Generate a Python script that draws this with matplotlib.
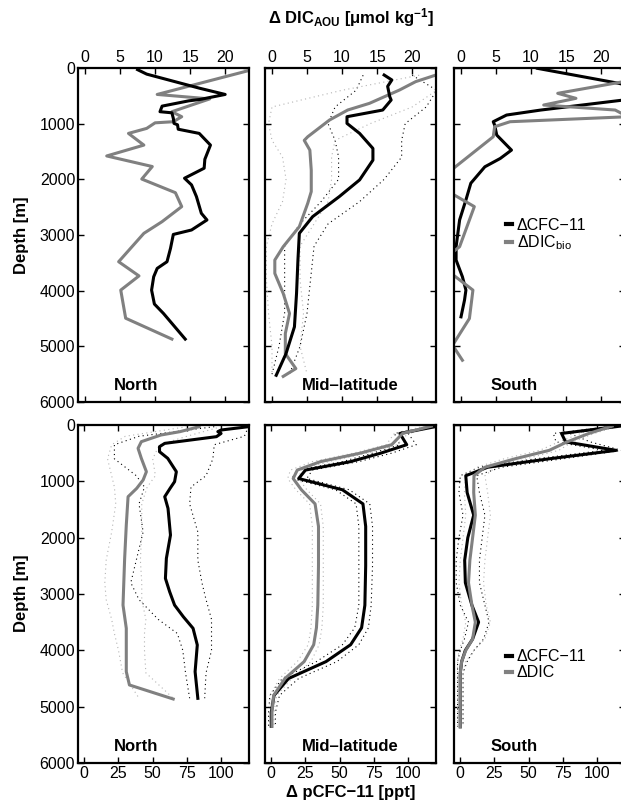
import numpy as np
import matplotlib
matplotlib.use('Agg')
import matplotlib.pyplot as plt
from matplotlib.lines import Line2D

plt.rcParams['font.family'] = ['Liberation Sans', 'DejaVu Sans']
plt.rcParams['mathtext.fontset'] = 'custom'
plt.rcParams['mathtext.rm'] = 'Liberation Sans'
plt.rcParams['mathtext.bf'] = 'Liberation Sans:bold'
plt.rcParams['mathtext.it'] = 'Liberation Sans:italic'

GRAY = '#808080'
LGRAY = '#b4b4b4'

# ---------------- top row: DIC_AOU based estimates [umol/kg] ----------------
# North
tn_cfc_d = [30, 110, 365, 475, 565, 590, 685, 785, 805, 905, 995, 1020, 1100, 1175, 1385,
            1640, 1800, 1980, 2100, 2310, 2610, 2730, 2910, 2990, 3240, 3480, 3600, 3750,
            3990, 4240, 4410, 4870]
tn_cfc = [7.5, 8.8, 16.4, 20.0, 16.4, 14.8, 11.0, 10.7, 12.4, 12.6, 12.7, 13.2, 13.3, 16.3, 17.9,
          17.1, 17.0, 14.2, 15.2, 15.9, 16.6, 17.4, 15.2, 12.6, 12.2, 11.7, 10.3, 9.8,
          9.5, 9.9, 11.2, 14.3]
tn_dic_d = [48, 475, 555, 785, 875, 965, 985, 1085, 1175, 1385, 1580, 1770, 1995, 2240, 2490,
            2760, 2970, 3480, 3735, 3990, 4495, 4870]
tn_dic = [23.3, 10.3, 17.8, 12.4, 13.8, 12.6, 10.0, 8.8, 6.2, 8.4, 3.1, 9.6, 8.1, 12.9, 13.8,
          11.0, 8.4, 4.8, 7.7, 5.1, 5.8, 12.4]

# Mid-latitude
tm_cfc_d = [126, 215, 330, 515, 575, 755, 875, 995, 1175, 1445, 1655, 2010, 2310, 2670, 2970,
            3450, 4050, 4650, 5130, 5520]
tm_cfc = [16.0, 17.1, 16.5, 16.8, 17.0, 15.8, 10.7, 10.7, 12.5, 14.4, 14.4, 12.5, 9.6, 5.8, 3.9,
          3.7, 3.5, 3.2, 2.0, 0.6]
tm_dic_d = [126, 245, 395, 635, 755, 935, 1235, 1300, 1475, 1835, 2220, 2430, 2850, 3210, 3450,
            3690, 4050, 4410, 4770, 5130, 5400, 5540]
tm_dic = [23.4, 20.5, 18.2, 13.9, 10.8, 8.2, 5.1, 4.6, 5.4, 5.6, 5.6, 5.1, 3.9, 1.6, 0.4,
          0.4, 1.6, 2.5, 1.9, 1.9, 3.4, 1.6]
tm_bnd_d = [130, 400, 700, 1000, 1300, 1600, 2000, 2400, 2800, 3200, 3800, 4400, 5000, 5500]
tm_cfc_hi = [20, 23.5, 22, 19, 18.5, 18.5, 16, 12.5, 8, 6, 5.5, 5, 4, 2.5]
tm_cfc_lo = [13, 12, 9, 8, 9, 9.5, 9.5, 7, 4, 1.8, 1.8, 1.8, 1, 0]
tm_dic_hi = [24, 23.5, 20, 14, 9, 8.5, 8.5, 8, 6, 4, 4, 4.5, 4, 5]
tm_dic_lo = [21, 10, 0, -0.5, 0, 1.5, 2, 1.5, 0, -0.8, -0.8, -0.5, 0, 0]

# South
ts_cfc_d = [6, 275, 335, 575, 755, 845, 965, 1025, 1205, 1475, 1625, 1775, 2070, 2370, 2730,
            3210, 3450, 3750, 3990, 4170, 4470]
ts_cfc = [10.9, 22.5, 24.5, 23.2, 11.4, 6.5, 4.6, 4.8, 5.1, 7.2, 5.6, 3.4, 1.4, 0.7, -0.2,
          -0.7, -0.7, 0.2, 0.7, 0.5, 0.0]
ts_dic_d = [245, 455, 545, 665, 755, 875, 965, 1055, 1235, 1835, 2250, 2490, 3210, 3330,
            3690, 3990, 4500, 4980, 5250]
ts_dic = [23.2, 13.8, 16.4, 11.8, 22.0, 23.8, 7.0, 4.8, 4.6, -1.4, -1.4, 1.9, -0.2, -1.4,
          -1.4, 1.7, 1.2, -1.2, 0.2]

# ---------------- bottom row: pCFC-11 [ppt] ----------------
# North
bn_cfc_d = [30, 89, 118, 150, 207, 326, 385, 474, 592, 829, 1006, 1125, 1273, 1480, 1954,
            2368, 2723, 2960, 3197, 3404, 3609, 3905, 4379, 4852]
bn_cfc = [120, 100, 97.6, 100, 96.6, 58.8, 55, 55, 61, 67.3, 66, 62.7, 58.8, 61.2, 63,
          60, 59.3, 62.4, 66, 72.4, 79.5, 82.6, 81, 83]
bn_dic_d = [30, 118, 178, 296, 414, 592, 829, 977, 1125, 1273, 1776, 2368, 3197, 3609,
            4379, 4615, 4864]
bn_dic = [84, 70, 56, 41.7, 39.3, 41.7, 45.4, 43, 38.3, 32, 30.7, 29.5, 28.3, 30.7,
          30.7, 33, 65]
bn_bnd_d = [30, 200, 350, 600, 900, 1100, 1400, 1900, 2400, 2800, 3100, 3450, 3700, 4000, 4400, 4850]
bn_cfc_hi = [120, 117, 95, 94, 89, 78, 77, 83, 83, 86, 89, 93, 93, 93, 89, 88]
bn_cfc_lo = [95, 40, 22, 22, 38, 44, 40, 43, 38, 34, 40, 54, 68, 72, 74, 77]
bn_dic_hi = [100, 75, 55, 50, 52, 46, 42, 42, 41, 42, 42, 45, 44, 44, 45, 65]
bn_dic_lo = [75, 30, 20, 17, 20, 22, 23, 20, 16, 15, 16, 20, 22, 25, 28, 40]

# Mid-latitude
bm_d = [20, 150, 350, 500, 650, 800, 950, 1150, 1400, 1800, 2500, 3200, 3600, 3900, 4200,
        4500, 4800, 5100, 5350]
bm_cfc = [122, 94, 99, 80, 58, 25, 20, 52, 67, 69, 69, 68.4, 66, 58, 40, 12.6, 2, 0, 0]
bm_dic = [117, 96, 88, 65, 36, 19, 16, 22, 32, 34.5, 34.5, 34, 33, 31, 24, 10, 1.7, 0.5, 0.5]
bm_cfc_hi = [122, 100, 106, 88, 64, 30, 26, 57, 72, 74, 74, 73, 71, 64, 48, 20, 6, 3, 3]
bm_cfc_lo = [118, 90, 94, 74, 52, 19, 15, 47, 62, 64, 64, 64, 61, 52, 33, 8, -1, -2, -2]
bm_dic_hi = [120, 100, 92, 70, 42, 22, 20, 26, 36, 38, 38, 38, 37, 35, 29, 15, 4, 2, 2]
bm_dic_lo = [112, 90, 84, 60, 30, 14, 12, 18, 28, 30, 30, 30, 29, 27, 19, 6, -1, -1, -1]

# South
bs_d = [20, 150, 300, 450, 600, 750, 900, 1200, 1600, 2000, 2400, 2800, 3200, 3500, 3800,
        4000, 4200, 4400, 5357]
bs_cfc = [117, 74, 77, 114, 65, 20, 4, 5, 9.8, 5.5, 3.2, 3.7, 8.5, 13.4, 9, 3.7, 1, 0, 0]
bs_dic = [111, 94, 78, 65, 40, 18, 10, 9.8, 11, 9, 7, 6, 8.5, 11, 9, 4, 1, 0, 0]
bs_cfc_hi = [120, 80, 95, 118, 75, 30, 12, 14, 18, 16, 14, 14, 18, 21, 17, 10, 5, 2, 2]
bs_cfc_lo = [112, 68, 70, 105, 55, 14, 0, -1, 2, -1, -3, -3, 0, 6, 3, 0, -2, -2, -2]
bs_dic_hi = [115, 98, 82, 72, 48, 26, 18, 20, 22, 20, 18, 17, 19, 22, 18, 10, 4, 2, 2]
bs_dic_lo = [106, 88, 72, 58, 32, 12, 4, 3, 4, 2, 0, -1, 1, 4, 2, -1, -2, -2, -2]

names = ['North', 'Mid\u2013latitude', 'South']
name_x = [0.34, 0.5, 0.35]
top_ticks = [0, 5, 10, 15, 20]
bot_ticks = [0, 25, 50, 75, 100]
depth_ticks = [0, 1000, 2000, 3000, 4000, 5000, 6000]

fig = plt.figure(figsize=(6.21, 8.10), dpi=100)
W, H = 621.0, 810.0
xs = [78, 265, 454]
pw = 171

dot = (0, (1, 3))


def style(ax, row, col):
    ax.set_ylim(6000, 0)
    ax.set_yticks(depth_ticks)
    if row == 0:
        ax.set_xlim(-1, 23.4)
        ax.set_xticks(top_ticks)
        ax.tick_params(axis='x', labeltop=True, labelbottom=False)
    else:
        ax.set_xlim(-4.6, 120.4)
        ax.set_xticks(bot_ticks)
    ax.tick_params(which='both', direction='in', top=True, bottom=True, left=True,
                   right=True, length=4, width=1, labelsize=11.5, pad=2)
    if col > 0:
        ax.tick_params(axis='y', labelleft=False)
    for s in ax.spines.values():
        s.set_linewidth(1.6)
    ax.text(name_x[col], 0.05 if row == 0 else 0.05, names[col], transform=ax.transAxes,
            ha='center', va='center', fontsize=12, fontweight='bold')


axes = {}
for row in range(2):
    for col in range(3):
        if row == 0:
            y0, h = 1 - 402 / H, 334 / H
        else:
            y0, h = 1 - 763 / H, 338 / H
        ax = fig.add_axes([xs[col] / W, y0, pw / W, h])
        axes[(row, col)] = ax

# top row
ax = axes[(0, 0)]
ax.plot(tn_dic, tn_dic_d, color=GRAY, lw=2.2)
ax.plot(tn_cfc, tn_cfc_d, color='black', lw=2.2)

ax = axes[(0, 1)]
for v in [tm_cfc_hi, tm_cfc_lo]:
    ax.plot(v, tm_bnd_d, color='black', lw=0.8, ls=dot)
for v in [tm_dic_hi, tm_dic_lo]:
    ax.plot(v, tm_bnd_d, color=LGRAY, lw=0.8, ls=dot)
ax.plot(tm_dic, tm_dic_d, color=GRAY, lw=2.2)
ax.plot(tm_cfc, tm_cfc_d, color='black', lw=2.2)

ax = axes[(0, 2)]
l1, = ax.plot(ts_cfc, ts_cfc_d, color='black', lw=2.2)
l2, = ax.plot(ts_dic, ts_dic_d, color=GRAY, lw=2.2)
ax.legend([Line2D([], [], color='black', lw=3), Line2D([], [], color=GRAY, lw=3)],
          ['\u0394CFC\u221211', '\u0394DIC$_{\\mathrm{bio}}$'],
          loc='upper left', bbox_to_anchor=(0.26, 0.575), frameon=False, fontsize=11.5,
          handlelength=0.35, handletextpad=0.3, labelspacing=0.05, borderpad=0)

# bottom row
ax = axes[(1, 0)]
for v in [bn_cfc_hi, bn_cfc_lo]:
    ax.plot(v, bn_bnd_d, color='black', lw=0.8, ls=dot)
for v in [bn_dic_hi, bn_dic_lo]:
    ax.plot(v, bn_bnd_d, color=LGRAY, lw=0.8, ls=dot)
ax.plot(bn_dic, bn_dic_d, color=GRAY, lw=2.2)
ax.plot(bn_cfc, bn_cfc_d, color='black', lw=2.2)

ax = axes[(1, 1)]
for v in [bm_cfc_hi, bm_cfc_lo]:
    ax.plot(v, bm_d, color='black', lw=0.8, ls=dot)
for v in [bm_dic_hi, bm_dic_lo]:
    ax.plot(v, bm_d, color=LGRAY, lw=0.8, ls=dot)
ax.plot(bm_cfc, bm_d, color='black', lw=2.2)
ax.plot(bm_dic, bm_d, color=GRAY, lw=2.2)

ax = axes[(1, 2)]
for v in [bs_cfc_hi, bs_cfc_lo]:
    ax.plot(v, bs_d, color='black', lw=0.8, ls=dot)
for v in [bs_dic_hi, bs_dic_lo]:
    ax.plot(v, bs_d, color=LGRAY, lw=0.8, ls=dot)
ax.plot(bs_cfc, bs_d, color='black', lw=2.2)
ax.plot(bs_dic, bs_d, color=GRAY, lw=2.2)
ax.legend([Line2D([], [], color='black', lw=3), Line2D([], [], color=GRAY, lw=3)],
          ['\u0394CFC\u221211', '\u0394DIC'],
          loc='upper left', bbox_to_anchor=(0.26, 0.36), frameon=False, fontsize=11.5,
          handlelength=0.35, handletextpad=0.3, labelspacing=0.05, borderpad=0)

for (row, col), ax in axes.items():
    style(ax, row, col)

fig.text(351 / W, 1 - 18 / H,
         '\u0394 DIC$_{\\mathbf{AOU}}$ [\u03bcmol kg$^{\\mathbf{-1}}$]',
         ha='center', va='center', fontsize=12, fontweight='bold')
fig.text(351 / W, 1 - 793 / H, '\u0394 pCFC\u221211 [ppt]',
         ha='center', va='center', fontsize=12, fontweight='bold')
fig.text(22 / W, 1 - 235 / H, 'Depth [m]', rotation=90, ha='center', va='center',
         fontsize=12, fontweight='bold')
fig.text(22 / W, 1 - 593 / H, 'Depth [m]', rotation=90, ha='center', va='center',
         fontsize=12, fontweight='bold')

fig.savefig('out.png', dpi=100)
